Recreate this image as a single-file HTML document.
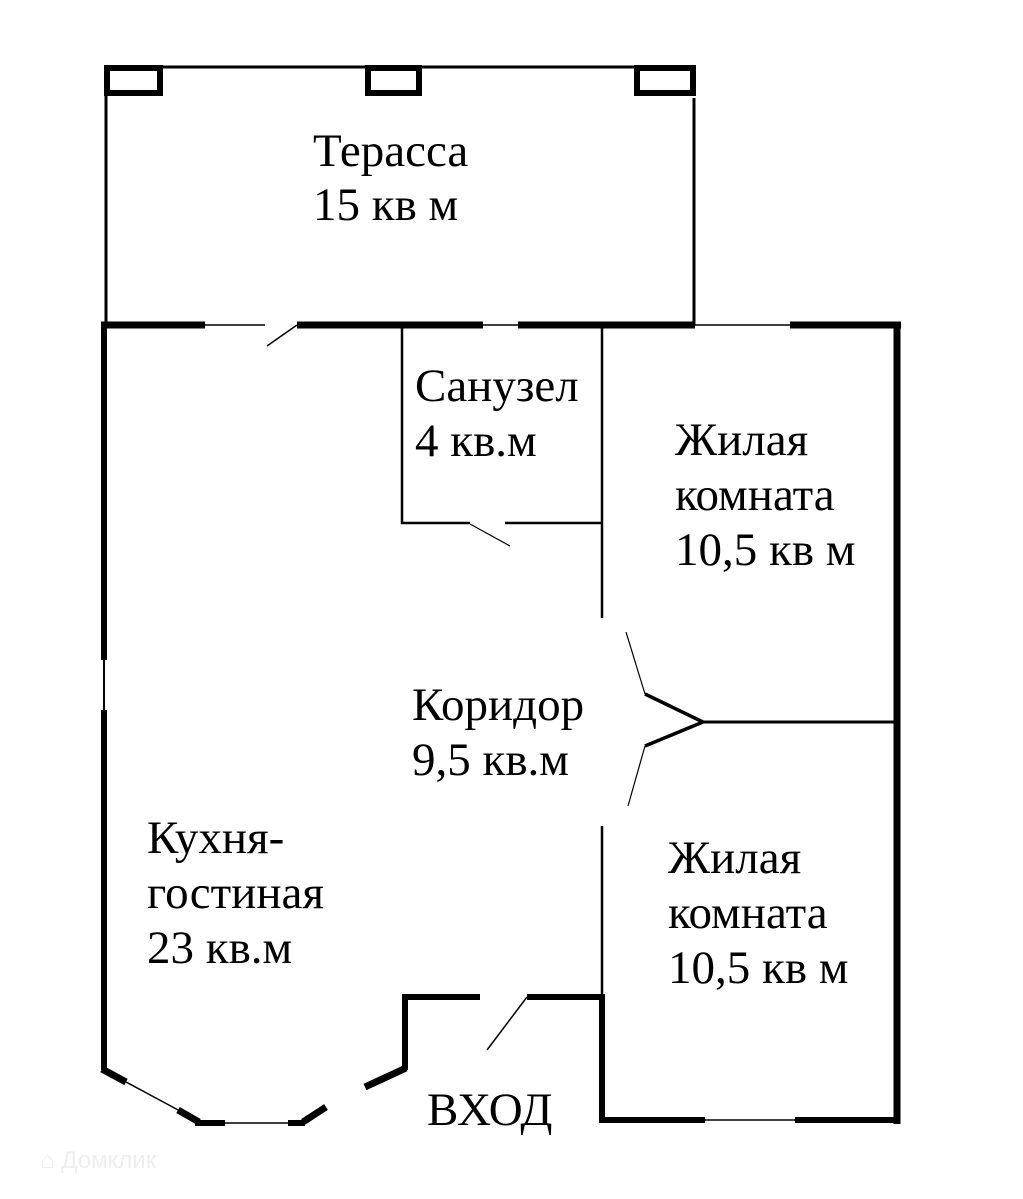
<!DOCTYPE html>
<html><head><meta charset="utf-8"><style>
html,body{margin:0;padding:0;background:#fff;}
svg{display:block;}
text{font-family:"Liberation Serif",serif;font-size:47px;fill:#000;}
</style></head><body>
<svg width="1023" height="1199" viewBox="0 0 1023 1199" xmlns="http://www.w3.org/2000/svg">
<g stroke="#000" fill="none" stroke-linecap="butt">
<line x1="105" y1="67" x2="695" y2="67" stroke-width="3"/>
<rect x="107" y="68" width="53" height="25" stroke-width="6" fill="#fff"/>
<rect x="368" y="68" width="51" height="25" stroke-width="6" fill="#fff"/>
<rect x="637" y="68" width="56" height="25" stroke-width="6" fill="#fff"/>
<line x1="106" y1="96" x2="106" y2="325" stroke-width="3"/>
<line x1="694" y1="98" x2="694" y2="325" stroke-width="3"/>
<line x1="101" y1="325" x2="205" y2="325" stroke-width="7"/>
<line x1="205" y1="325" x2="265" y2="325" stroke-width="1.5"/>
<line x1="297" y1="325" x2="267" y2="346" stroke-width="1.5"/>
<line x1="297" y1="325" x2="483" y2="325" stroke-width="7"/>
<line x1="483" y1="325" x2="518" y2="325" stroke-width="1.5"/>
<line x1="518" y1="325" x2="695" y2="325" stroke-width="7"/>
<line x1="695" y1="325" x2="790" y2="325" stroke-width="1.5"/>
<line x1="790" y1="325" x2="901" y2="325" stroke-width="7"/>
<line x1="897" y1="322" x2="897" y2="1124" stroke-width="7"/>
<line x1="104" y1="322" x2="104" y2="660" stroke-width="6"/>
<line x1="104" y1="660" x2="104" y2="710" stroke-width="2"/>
<line x1="104" y1="710" x2="104" y2="1070" stroke-width="6"/>
<line x1="102" y1="1069" x2="126" y2="1082" stroke-width="7"/>
<line x1="126" y1="1082" x2="180" y2="1111" stroke-width="1.5"/>
<line x1="178" y1="1110" x2="199" y2="1122" stroke-width="7"/>
<line x1="195" y1="1123" x2="225" y2="1123" stroke-width="6"/>
<line x1="225" y1="1123" x2="288" y2="1123" stroke-width="1.5"/>
<line x1="288" y1="1123" x2="305" y2="1123" stroke-width="6"/>
<line x1="303" y1="1122" x2="326" y2="1107" stroke-width="7"/>
<line x1="365" y1="1087" x2="406" y2="1068" stroke-width="7"/>
<line x1="405" y1="1070" x2="405" y2="994" stroke-width="6"/>
<line x1="402" y1="997" x2="480" y2="997" stroke-width="6"/>
<line x1="527" y1="997" x2="487" y2="1050" stroke-width="1.5"/>
<line x1="527" y1="997" x2="605" y2="997" stroke-width="6"/>
<line x1="602" y1="994" x2="602" y2="1123" stroke-width="6"/>
<line x1="599" y1="1120" x2="705" y2="1120" stroke-width="6"/>
<line x1="705" y1="1120" x2="795" y2="1120" stroke-width="1.5"/>
<line x1="795" y1="1120" x2="900" y2="1120" stroke-width="6"/>
<line x1="402" y1="325" x2="402" y2="524" stroke-width="2.5"/>
<line x1="401" y1="523" x2="470" y2="523" stroke-width="2.5"/>
<line x1="470" y1="524" x2="510" y2="546" stroke-width="1.2"/>
<line x1="505" y1="523" x2="603" y2="523" stroke-width="2.5"/>
<line x1="602" y1="325" x2="602" y2="618" stroke-width="2.5"/>
<line x1="602" y1="826" x2="602" y2="997" stroke-width="2.5"/>
<line x1="626" y1="632" x2="645" y2="694" stroke-width="1.2"/>
<polyline points="645,694 703,722 645,746" stroke-width="3.5" stroke-linejoin="miter"/>
<line x1="703" y1="722" x2="897" y2="722" stroke-width="3"/>
<line x1="645" y1="746" x2="628" y2="806" stroke-width="1.2"/>
</g>
<text x="313" y="166">Терасса</text>
<text x="313" y="220">15 кв м</text>
<text x="415" y="401">Санузел</text>
<text x="415" y="456">4 кв.м</text>
<text x="675" y="455">Жилая</text>
<text x="675" y="510">комната</text>
<text x="675" y="565">10,5 кв м</text>
<text x="412" y="720">Коридор</text>
<text x="412" y="775">9,5 кв.м</text>
<text x="147" y="853">Кухня-</text>
<text x="147" y="908">гостиная</text>
<text x="147" y="963">23 кв.м</text>
<text x="668" y="873">Жилая</text>
<text x="668" y="928">комната</text>
<text x="668" y="983">10,5 кв м</text>
<text x="427" y="1125">ВХОД</text>
<text x="40" y="1168" style="font-family:'Liberation Sans',sans-serif;font-size:24px;fill:#eee;">⌂ Домклик</text>
</svg>
</body></html>
